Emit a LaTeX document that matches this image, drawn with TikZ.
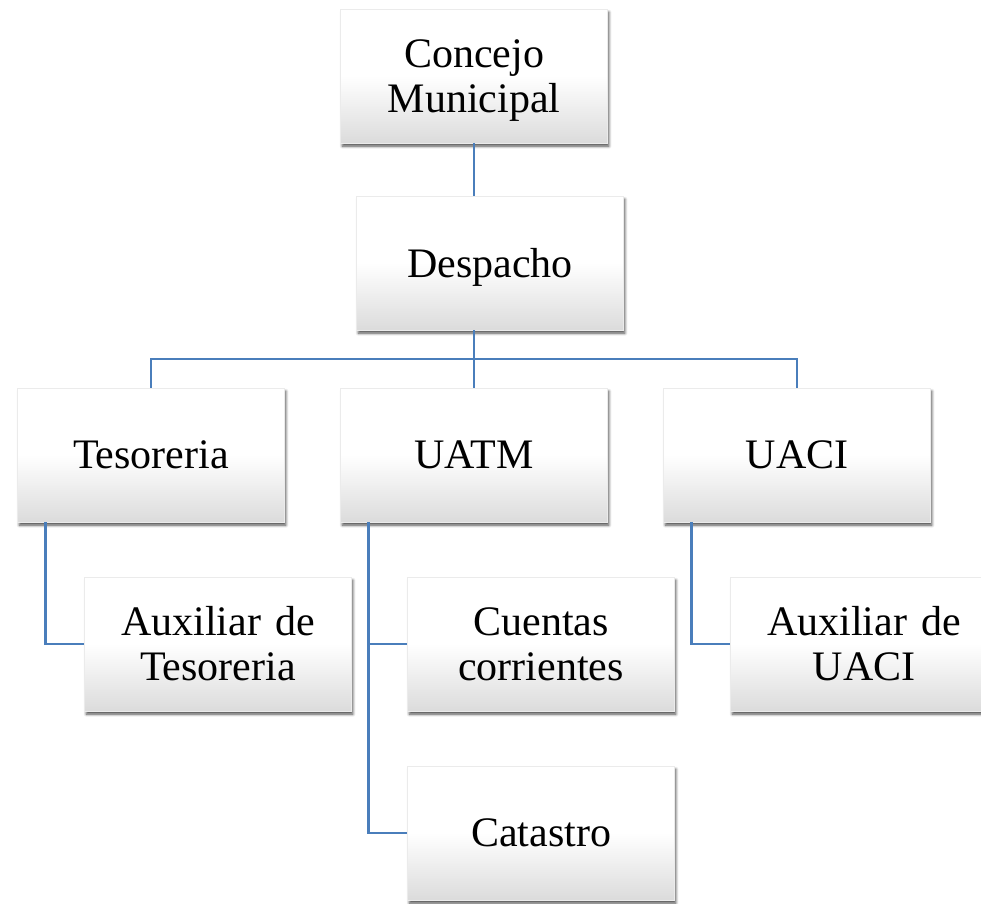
\documentclass[tikz,border=0pt]{standalone}
\usepackage{amsmath}
\usepackage{fontspec}
\setmainfont{Liberation Serif}
\usetikzlibrary{positioning,shadows.blur}
\definecolor{azulorg}{HTML}{4A7EBB}
\tikzset{
  caja/.style={
    rectangle,
    draw=black!8, thin,
    top color=white,
    bottom color=black!14,
    middle color=white,
    blur shadow={shadow xshift=1.2pt, shadow yshift=-2.4pt, shadow blur steps=6,
                 shadow blur radius=2pt, shadow opacity=70},
    minimum width=200pt,
    minimum height=100.5pt,
    text width=190pt,
    align=center,
    font=\fontsize{31.5}{33.75}\selectfont},
  conector/.style={draw=azulorg, line width=1.7pt},
}

\begin{document}
\begin{tikzpicture}[x=0.75pt,y=-0.75pt]
  \useasboundingbox (0,0) rectangle (981,903);
  % nivel 1 y 2
  \node[caja] (concejo) at (474,76) {Concejo\\\smash[b]{Municipal}};
  \node[caja] (despacho) at (490,263) {\smash[b]{Despacho}};
  % unidades
  \node[caja] (tesoreria) at (151,455) {Tesoreria};
  \node[caja] (uatm) at (474,455) {UATM};
  \node[caja] (uaci) at (797,455) {UACI};
  % dependencias
  \node[caja] (auxtes) at (218,644) {Auxiliar de\\Tesoreria};
  \node[caja] (cuentas) at (541,644) {Cuentas\\corrientes};
  \node[caja] (auxuaci) at (864,644) {Auxiliar de\\UACI};
  \node[caja] (catastro) at (541,833) {Catastro};

  \coordinate (bus) at (474,359);
  \draw[conector] (concejo.south) -- (concejo.south |- despacho.north);
  \draw[conector] (bus |- despacho.south) -- (bus);
  \draw[conector] (tesoreria.north) |- (bus) -| (uaci.north);
  \draw[conector] (bus) -- (uatm.north);
  \draw[conector] ([xshift=21pt]tesoreria.south west) |- (auxtes.west);
  \draw[conector] ([xshift=21pt]uatm.south west) |- (catastro.west);
  \draw[conector] ([xshift=21pt]uatm.south west) |- (cuentas.west);
  \draw[conector] ([xshift=21pt]uaci.south west) |- (auxuaci.west);
\end{tikzpicture}
\end{document}
